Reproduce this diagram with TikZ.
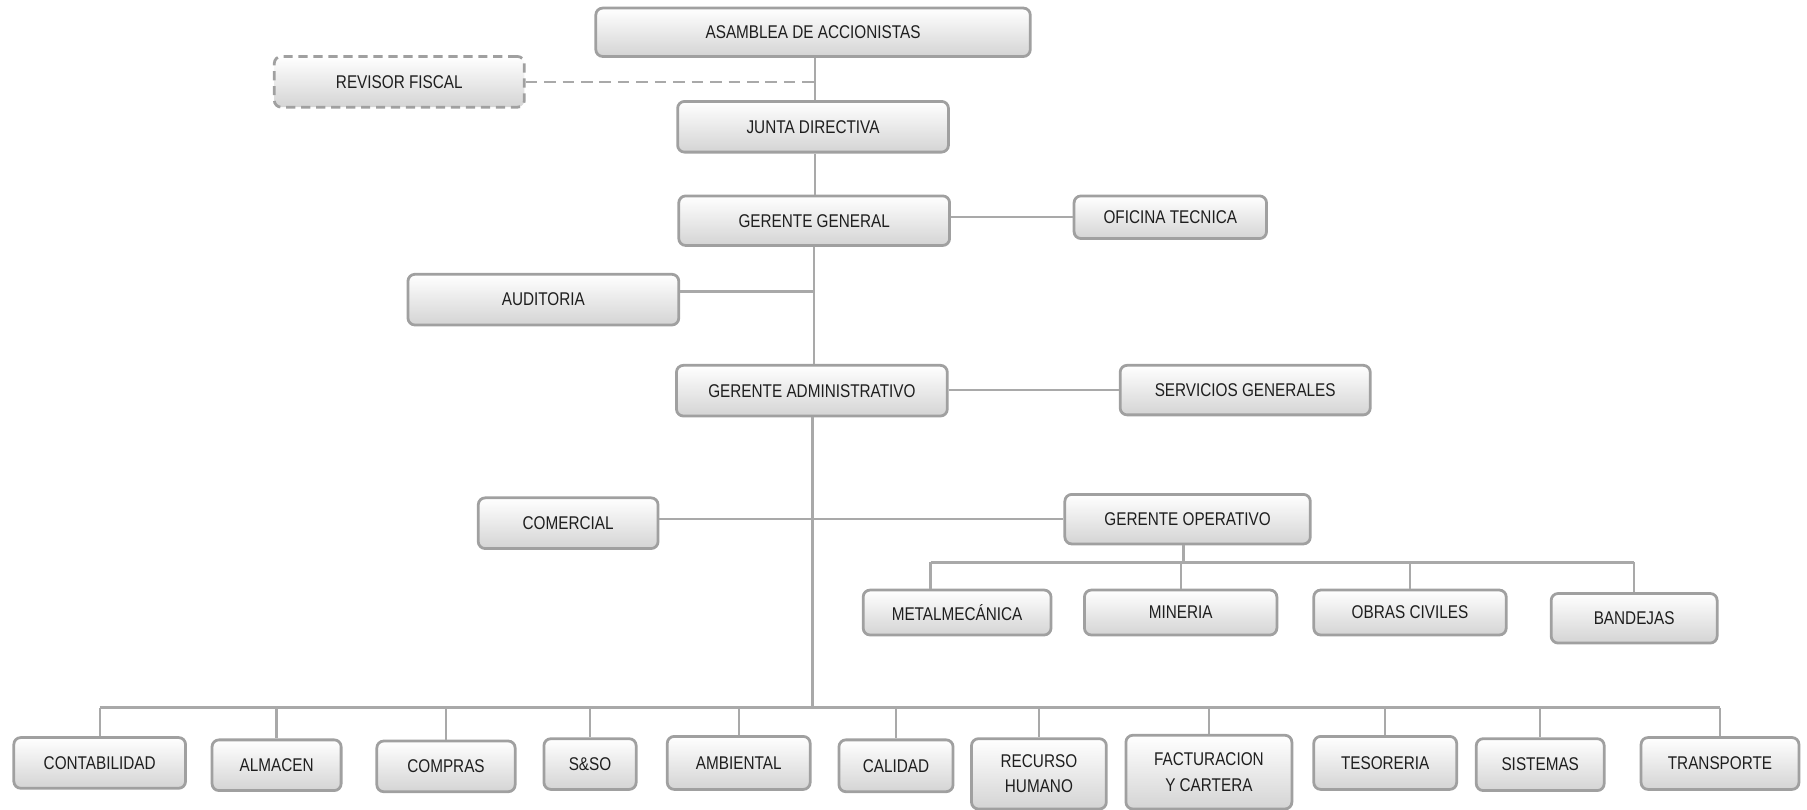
\documentclass[tikz,border=0pt]{standalone}
\usepackage{fontspec}
\setmainfont[FakeStretch=0.83]{Liberation Sans}
\definecolor{lncol}{HTML}{A9A9A9}
\definecolor{bdcol}{HTML}{A0A0A0}
\definecolor{shcol}{HTML}{D4D4D4}
\definecolor{txcol}{HTML}{1E1E1E}
\begin{document}
\begin{tikzpicture}[x=0.5pt,y=-0.5pt,
  box/.style={draw=bdcol, line width=1.2pt, rounded corners=3pt, top color=white, bottom color=shcol,
    inner sep=0pt, align=center, text=txcol, font=\fontsize{8}{11}\selectfont},
  dbox/.style={box, dashed, dash pattern=on 4pt off 2.5pt},
  ln/.style={draw=lncol, line width=1pt},
  dln/.style={draw=lncol, line width=1pt, dash pattern=on 5pt off 3pt}]
\useasboundingbox (0,0) rectangle (1568,702);
% top chain
\node[box, minimum width=188.5pt, minimum height=21pt] (asm) at (705.5,28) {ASAMBLEA DE ACCIONISTAS};
\node[dbox, minimum width=108.5pt, minimum height=22pt] (rf) at (346.5,71) {REVISOR FISCAL};
\node[box, minimum width=117.5pt, minimum height=22pt] (jd) at (705.5,110) {JUNTA DIRECTIVA};
\node[box, minimum width=117.5pt, minimum height=21.5pt] (gg) at (706.5,191.5) {GERENTE GENERAL};
\node[box, minimum width=83.5pt, minimum height=18.5pt] (ot) at (1015.5,188.5) {OFICINA TECNICA};
\node[box, minimum width=117.5pt, minimum height=22pt] (aud) at (471.5,260) {AUDITORIA};
\node[box, minimum width=117.5pt, minimum height=22pt] (ga) at (704.5,339) {GERENTE ADMINISTRATIVO};
\node[box, minimum width=108.5pt, minimum height=21.5pt] (sg) at (1080.5,338.5) {SERVICIOS GENERALES};
\node[box, minimum width=78pt, minimum height=22pt] (com) at (493,454) {COMERCIAL};
\node[box, minimum width=106.5pt, minimum height=21.5pt] (go) at (1030.5,450.5) {GERENTE OPERATIVO};
% operative children
\node[box, minimum width=81.5pt, minimum height=19.5pt] (met) at (830.5,531.5) {METALMECÁNICA};
\node[box, minimum width=83.5pt, minimum height=19.5pt] (min) at (1024.5,531.5) {MINERIA};
\node[box, minimum width=83.5pt, minimum height=19.5pt] (obr) at (1223.5,531.5) {OBRAS CIVILES};
\node[box, minimum width=72pt, minimum height=21.5pt] (ban) at (1418,536.5) {BANDEJAS};
% bottom row
\node[box, minimum width=74.5pt, minimum height=22pt] (cont) at (86.5,662) {CONTABILIDAD};
\node[box, minimum width=56pt, minimum height=22pt] (alm) at (240,664) {ALMACEN};
\node[box, minimum width=60pt, minimum height=22pt] (comp) at (387,665) {COMPRAS};
\node[box, minimum width=40pt, minimum height=22pt] (sso) at (512,663) {S\&SO};
\node[box, minimum width=62pt, minimum height=23pt] (amb) at (641,662) {AMBIENTAL};
\node[box, minimum width=49.5pt, minimum height=22.5pt] (cal) at (777.5,664.5) {CALIDAD};
\node[box, minimum width=58.5pt, minimum height=30.5pt] (rh) at (901.5,671.5) {RECURSO\\HUMANO};
\node[box, minimum width=72pt, minimum height=32pt] (fac) at (1049,670) {FACTURACION\\Y CARTERA};
\node[box, minimum width=62pt, minimum height=23pt] (tes) at (1202,662) {TESORERIA};
\node[box, minimum width=55.5pt, minimum height=22.5pt] (sis) at (1336.5,663.5) {SISTEMAS};
\node[box, minimum width=68.5pt, minimum height=22.5pt] (tra) at (1492.5,662.5) {TRANSPORTE};
% coordinates
\coordinate (busB) at (705,614);
\coordinate (busO) at (1027,488);
% connectors main spine
\draw[ln] (asm.south -| jd.north) ++(1.5,0) coordinate (sp1) -- (sp1 |- jd.north);
\draw[dln] (rf.east) -- (rf.east -| sp1);
\draw[ln] (jd.south -| sp1) -- (gg.north -| sp1);
\draw[ln] (gg.south) -- (gg.south |- ga.north);
\draw[ln] ([yshift=3.5pt]aud.east) -- ([yshift=3.5pt]aud.east -| gg.south);
\draw[ln] (gg.east |- ot.west) -- (ot.west);
\draw[ln] (ga.east |- sg.west) -- (sg.west);
\draw[ln] (ga.south -| busB) -- (busB);
\draw[ln] (com.east |- go.west) -- (go.west);
% operative bus
\draw[ln] (go.south -| busO) -- (busO);
\draw[ln] ([xshift=-11.5pt]met.north |- busO) -- (ban.north |- busO);
\draw[ln] ([xshift=-11.5pt]met.north |- busO) -- ([xshift=-11.5pt]met.north);
\foreach \n in {min,obr,ban} \draw[ln] (\n.north |- busO) -- (\n.north);
% bottom bus
\draw[ln] (cont.north |- busB) -- (tra.north |- busB);
\foreach \n in {cont,alm,comp,sso,amb,cal,rh,fac,tes,sis,tra} \draw[ln] (\n.north |- busB) -- (\n.north);
\end{tikzpicture}
\end{document}
